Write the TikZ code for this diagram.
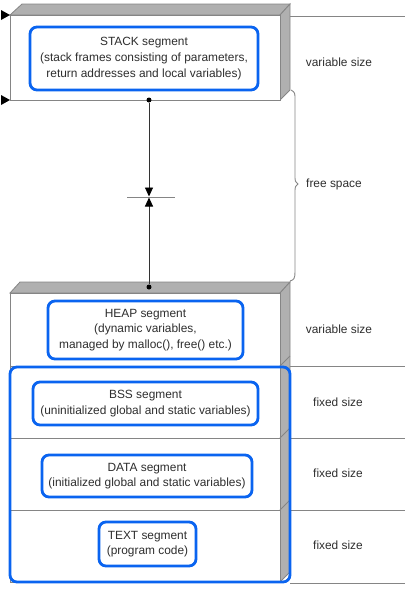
\documentclass[tikz,border=0pt]{standalone}
\usepackage{fontspec}
\setmainfont{Liberation Sans}
\usetikzlibrary{arrows.meta}
\definecolor{segblue}{HTML}{0A64F0}
\definecolor{facegray}{HTML}{B0B0B0}
\definecolor{linegray}{HTML}{858585}
\definecolor{txtgray}{HTML}{2E2E2E}
\tikzset{
  bluebox/.style={draw=segblue, line width=2.8pt, rounded corners=7pt, align=center,
    inner sep=0pt, text=txtgray, font=\fontsize{11.9}{15.6}\selectfont},
  sidelabel/.style={text=txtgray, font=\fontsize{11.9}{14}\selectfont, inner sep=0pt},
  frontface/.style={draw=linegray, line width=0.9pt, fill=white},
  shade3d/.style={draw=linegray, line width=0.8pt, fill=facegray},
  rule/.style={draw=linegray, line width=0.9pt},
  dotend/.style={circle, fill=black, inner sep=0pt, minimum size=5pt}
}
\begin{document}
\begin{tikzpicture}[x=1pt,y=-1pt]
\useasboundingbox (0,0) rectangle (405,590);
% horizontal rules on the right
\draw[rule] (290,16) -- (405,16);
\draw[rule] (280,366) -- (405,366);
\draw[rule] (280,438) -- (405,438);
\draw[rule] (280,510) -- (405,510);
\draw[rule] (290,583) -- (405,583);
% STACK 3D box
\draw[shade3d] (10,15) -- (22,4) -- (290,4) -- (280,15) -- cycle;
\draw[shade3d] (280,15) -- (290,4) -- (290,90) -- (280,100) -- cycle;
\draw[frontface] (10,15) rectangle (280,100);
% HEAP and lower 3D column
\draw[shade3d] (10,293) -- (20,282) -- (290,282) -- (280,293) -- cycle;
\draw[shade3d] (280,293) -- (290,282) -- (290,572) -- (280,582) -- cycle;
\draw[frontface] (10,293) rectangle (280,582);
\draw[rule] (10,366) -- (280,366);
\draw[rule] (10,438) -- (280,438);
\draw[rule] (10,510) -- (280,510);
\draw[rule] (280,366) -- (290,356);
\draw[rule] (280,438) -- (290,428);
\draw[rule] (280,510) -- (290,500);
% left markers
\fill[black] (1,10) -- (10,15) -- (1,20) -- cycle;
\fill[black] (1,95) -- (10,100) -- (1,105) -- cycle;
% segment labels
\node[bluebox, minimum width=228pt, minimum height=63pt] (stack) at (144,58.5)
  {STACK segment\\(stack frames consisting of parameters,\\return addresses and local variables)};
\node[bluebox, minimum width=195pt, minimum height=58pt] (heap) at (145.5,330)
  {HEAP segment\\(dynamic variables,\\managed by malloc(), free() etc.)};
\node[draw=segblue, line width=2.8pt, rounded corners=7pt, minimum width=280pt,
  minimum height=215pt, inner sep=0pt] (fixedgroup) at (150,474.5) {};
\node[bluebox, minimum width=225pt, minimum height=43pt] (bss) at (145.5,403.5)
  {BSS segment\\(uninitialized global and static variables)};
\node[bluebox, minimum width=210pt, minimum height=42pt] (data) at (147,476)
  {DATA segment\\(initialized global and static variables)};
\node[bluebox, minimum width=97pt, minimum height=44pt] (text) at (147.5,544)
  {TEXT segment\\(program code)};
% right labels
\node[sidelabel] (vs1) at (339,62) {variable size};
\node[sidelabel] (fs) at (334,184) {free space};
\node[sidelabel] (vs2) at (339,329) {variable size};
\node[sidelabel] (fx1) at (338,402) {fixed size};
\node[sidelabel] (fx2) at (338,473) {fixed size};
\node[sidelabel] (fx3) at (338,545) {fixed size};
% growth arrows
\node[dotend] (sdot) at (149,100) {};
\node[dotend] (hdot) at (149,287) {};
\coordinate (midtop) at (149,196.5);
\coordinate (midbot) at (149,197.5);
\draw[linegray, line width=0.9pt] (127,197) -- (175,197);
\draw[black!80, line width=0.9pt, -{Triangle[length=9pt,width=8pt,black]}] (sdot) -- (midtop);
\draw[black!80, line width=0.9pt, -{Triangle[length=9pt,width=8pt,black]}] (hdot) -- (midbot);
% brace
\draw[linegray, line width=0.9pt] (291,90) .. controls (295,92) and (295,94) .. (295,98)
  -- (295,178) .. controls (295,181) .. (298,184) .. controls (295,187) .. (295,190)
  -- (295,272) .. controls (295,278) and (294,280) .. (290,281);
\end{tikzpicture}
\end{document}
